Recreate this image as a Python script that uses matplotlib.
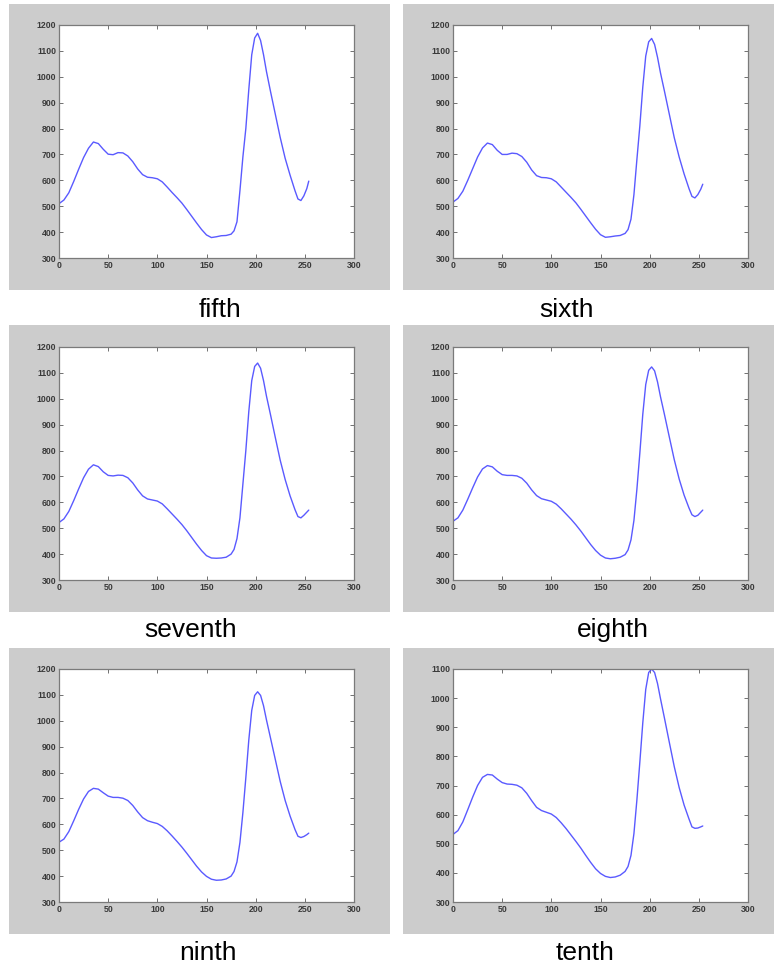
import matplotlib
matplotlib.use("Agg")
import matplotlib.pyplot as plt
from matplotlib.patches import Rectangle

# ---------------- data ----------------
x_vals = [0, 5, 10, 15, 20, 25, 30, 35, 40, 45, 50, 55, 60, 65, 70, 75, 80, 85, 90, 95,
          100, 105, 110, 115, 120, 125, 130, 135, 140, 145, 150, 155, 160, 165, 170, 175,
          178, 181, 184, 187, 190, 193, 196, 199, 202, 205, 208, 211,
          215, 220, 225, 230, 235, 240,
          243, 246, 249, 252, 254]

fifth = [510, 524, 552, 596, 643, 688, 724, 748, 742, 720, 701, 699, 707, 706, 694, 672, 644, 622, 612, 610,
         606, 594, 574, 553, 533, 512, 487, 461, 435, 410, 389, 379, 382, 386, 387, 392,
         405, 440, 560, 690, 800, 950, 1085, 1150, 1168, 1140, 1085, 1020,
         945, 855, 765, 685, 620, 560,
         528, 522, 540, 568, 597]

sixth = [516, 530, 558, 600, 645, 690, 725, 744, 738, 716, 700, 700, 705, 703, 692, 670, 640, 618, 611, 610,
         606, 594, 574, 554, 534, 513, 488, 462, 436, 411, 390, 380, 382, 385, 387, 395,
         410, 450, 545, 680, 810, 960, 1080, 1135, 1148, 1125, 1075, 1015,
         945, 855, 765, 690, 625, 568,
         538, 532, 545, 566, 585]

seventh = [522, 536, 565, 607, 652, 695, 728, 745, 738, 718, 704, 702, 705, 704, 695, 675, 648, 625, 613, 609,
           605, 594, 575, 555, 535, 514, 490, 464, 438, 414, 394, 385, 384, 385, 388, 400,
           418, 460, 540, 670, 800, 950, 1070, 1125, 1138, 1118, 1070, 1010,
           940, 850, 762, 688, 625, 572,
           545, 540, 550, 562, 570]

eighth = [527, 540, 570, 612, 656, 698, 729, 742, 737, 720, 707, 704, 704, 702, 693, 674, 648, 626, 614, 609,
          604, 593, 575, 555, 535, 513, 489, 463, 437, 414, 396, 385, 382, 384, 388, 398,
          416, 455, 530, 650, 790, 940, 1055, 1110, 1123, 1108, 1065, 1008,
          940, 852, 765, 690, 628, 578,
          552, 545, 550, 562, 570]

ninth = [531, 543, 572, 614, 658, 698, 727, 739, 736, 722, 709, 704, 704, 701, 692, 673, 648, 626, 614, 608,
         603, 592, 575, 555, 534, 512, 488, 463, 438, 416, 399, 388, 384, 385, 389, 400,
         418, 455, 530, 645, 780, 925, 1040, 1098, 1112, 1098, 1058, 1003,
         935, 850, 765, 692, 632, 580,
         554, 549, 553, 560, 566]

tenth = [532, 545, 575, 617, 660, 700, 728, 738, 736, 722, 710, 705, 704, 701, 692, 673, 648, 625, 614, 608,
         602, 590, 572, 552, 530, 508, 485, 460, 436, 414, 398, 388, 384, 386, 392, 405,
         422, 460, 535, 650, 780, 915, 1030, 1088, 1100, 1088, 1050, 998,
         932, 848, 765, 693, 633, 585,
         558, 553, 554, 558, 561]

labels = ["fifth", "sixth", "seventh", "eighth", "ninth", "tenth"]
series = [fifth, sixth, seventh, eighth, ninth, tenth]
ymaxes = [1200, 1200, 1200, 1200, 1200, 1100]
x_ticks = [0, 50, 100, 150, 200, 250, 300]

# ---------------- layout (pixels) ----------------
W, H = 774, 967
fig = plt.figure(figsize=(W / 100, H / 100), dpi=100)
fig.patch.set_facecolor("white")

col_gray = [(9, 390), (403, 774)]
col_axes = [(59, 354), (453, 748)]
row_gray = [(4, 290), (325, 612), (648, 934)]
row_axes = [(25, 258), (347, 580), (669, 902)]
label_pos = [(220, 317), (567, 317), (191, 637), (613, 637), (208, 960), (585, 960)]

gray = "#cccccc"
for r in range(3):
    for c in range(2):
        gx0, gx1 = col_gray[c]
        gy0, gy1 = row_gray[r]
        fig.patches.append(Rectangle((gx0 / W, 1 - gy1 / H), (gx1 - gx0) / W, (gy1 - gy0) / H,
                                     transform=fig.transFigure, facecolor=gray,
                                     edgecolor="none", zorder=-10))

for i, (lab, ys, ymax) in enumerate(zip(labels, series, ymaxes)):
    r, c = divmod(i, 2)
    ax0, ax1 = col_axes[c]
    ay0, ay1 = row_axes[r]
    ax = fig.add_axes([ax0 / W, 1 - ay1 / H, (ax1 - ax0) / W, (ay1 - ay0) / H])
    ax.set_zorder(5)
    ax.set_facecolor("white")
    ax.plot(x_vals, ys, color="#4848ff", lw=1.0, alpha=0.9, solid_capstyle="round")
    ax.set_xlim(0, 300)
    ax.set_ylim(300, ymax)
    ax.set_xticks(x_ticks)
    ax.set_yticks(list(range(300, ymax + 1, 100)))
    ax.tick_params(direction="in", length=3, width=0.7, colors="#707070",
                   labelcolor="#3a3a3a", labelsize=6.3, top=True, right=True, pad=2)
    for lbl in ax.get_xticklabels() + ax.get_yticklabels():
        lbl.set_fontfamily("Liberation Sans")
        lbl.set_fontweight("bold")
    for s in ax.spines.values():
        s.set_color("#7a7a7a")
        s.set_linewidth(0.9)
    lx, ly = label_pos[i]
    fig.text(lx / W, 1 - ly / H, lab, ha="center", va="baseline",
             fontsize=19, family="Liberation Sans", color="black")

fig.savefig("out.png", dpi=100, facecolor="white")
